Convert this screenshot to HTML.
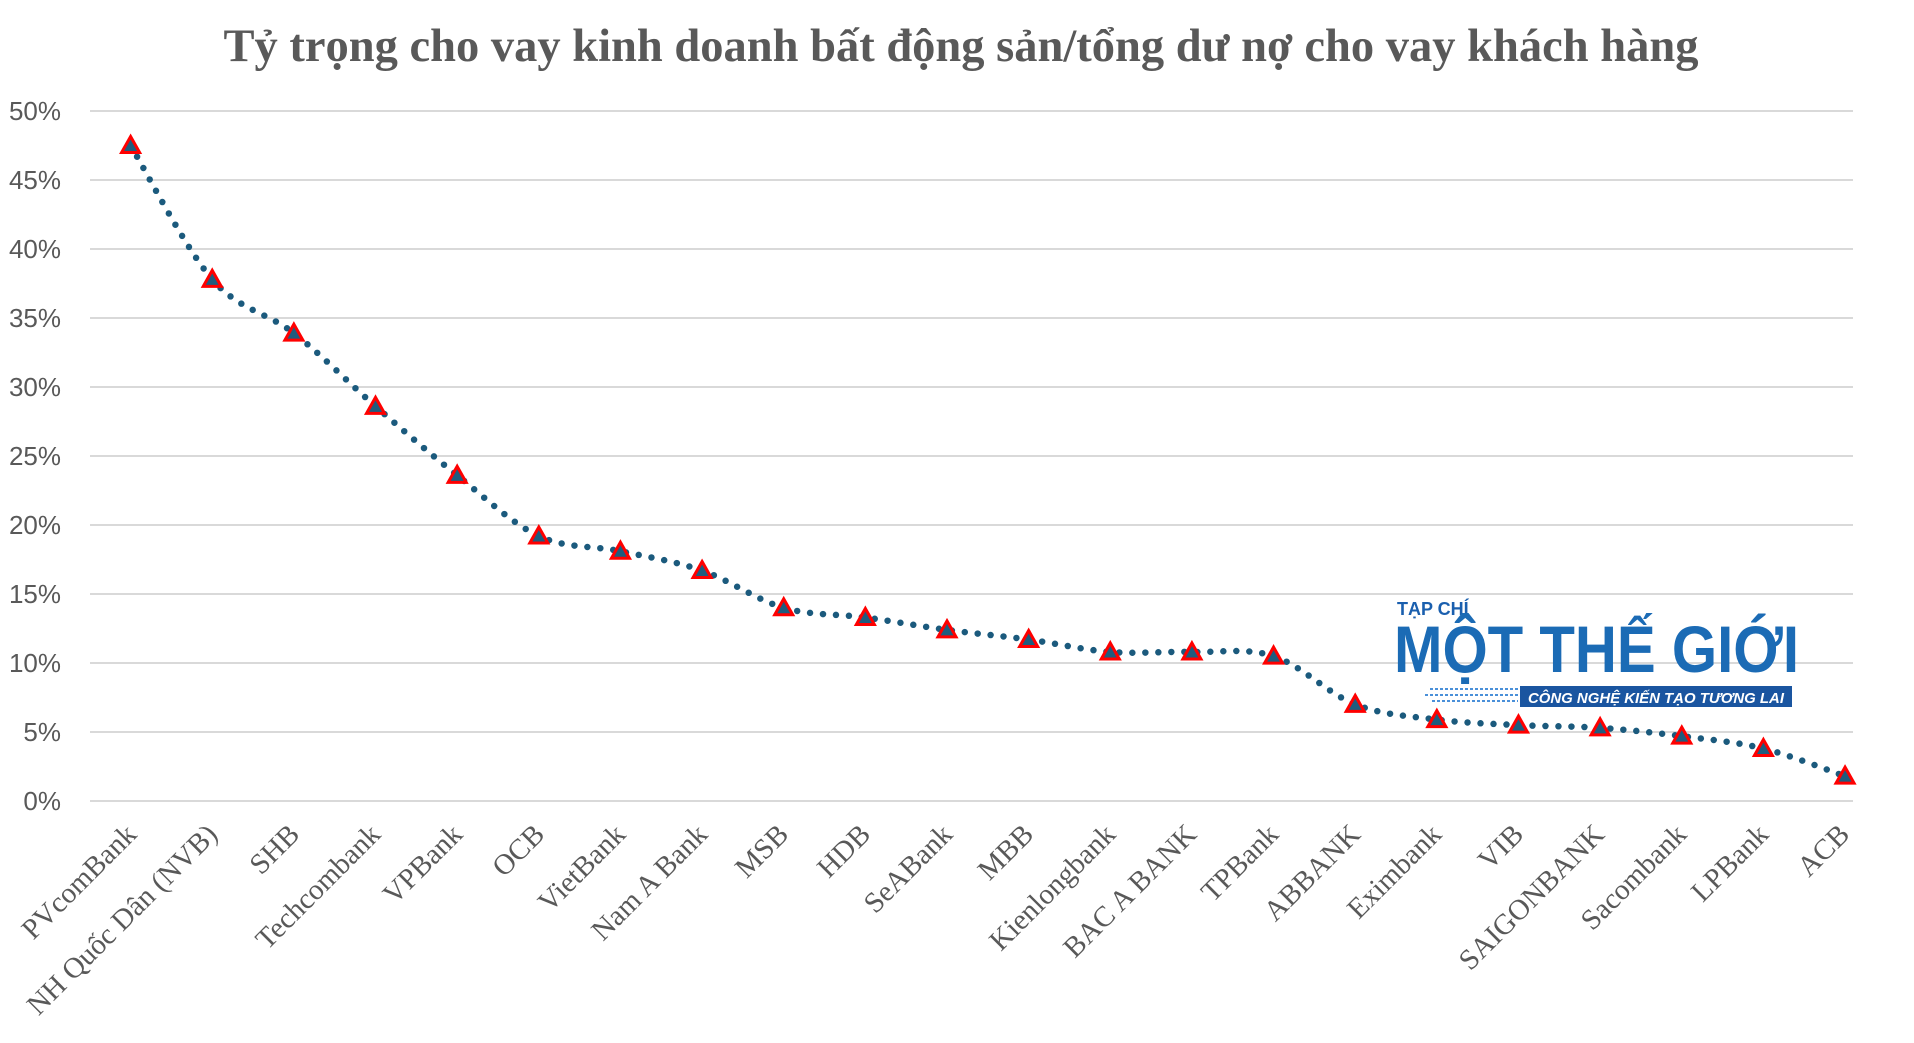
<!DOCTYPE html>
<html><head><meta charset="utf-8"><style>
html,body{margin:0;padding:0;background:#fff;}
svg{display:block;}
.yl{font-family:"Liberation Sans",sans-serif;font-size:26px;fill:#595959;text-anchor:end;}
.xl{font-family:"Liberation Serif",serif;font-size:29px;fill:#595959;text-anchor:end;}
</style></head><body>
<svg id="s" width="1914" height="1043" viewBox="0 0 1914 1043" xmlns="http://www.w3.org/2000/svg">
<text x="961" y="61" text-anchor="middle" style="font-family:'Liberation Serif',serif;font-weight:bold;font-size:46.5px;fill:#595959">Tỷ trọng cho vay kinh doanh bất động sản/tổng dư nợ cho vay khách hàng</text>
<g stroke="#d9d9d9" stroke-width="2">
<line x1="90" x2="1853" y1="111" y2="111"/><line x1="90" x2="1853" y1="180" y2="180"/>
<line x1="90" x2="1853" y1="249" y2="249"/><line x1="90" x2="1853" y1="318" y2="318"/>
<line x1="90" x2="1853" y1="387" y2="387"/><line x1="90" x2="1853" y1="456" y2="456"/>
<line x1="90" x2="1853" y1="525" y2="525"/><line x1="90" x2="1853" y1="594" y2="594"/>
<line x1="90" x2="1853" y1="663" y2="663"/><line x1="90" x2="1853" y1="732" y2="732"/>
<line x1="90" x2="1853" y1="801" y2="801"/>
</g>
<g class="yl">
<text x="61" y="120">50%</text><text x="61" y="189">45%</text><text x="61" y="258">40%</text>
<text x="61" y="327">35%</text><text x="61" y="396">30%</text><text x="61" y="465">25%</text>
<text x="61" y="534">20%</text><text x="61" y="603">15%</text><text x="61" y="672">10%</text>
<text x="61" y="741">5%</text><text x="61" y="810">0%</text>
</g>
<g class="xl">
<text transform="translate(138,836) rotate(-45)">PVcomBank</text>
<text transform="translate(219,836) rotate(-45)">NH Quốc Dân (NVB)</text>
<text transform="translate(301,836) rotate(-45)">SHB</text>
<text transform="translate(382,836) rotate(-45)">Techcombank</text>
<text transform="translate(464,836) rotate(-45)">VPBank</text>
<text transform="translate(546,836) rotate(-45)">OCB</text>
<text transform="translate(627,836) rotate(-45)">VietBank</text>
<text transform="translate(709,836) rotate(-45)">Nam A Bank</text>
<text transform="translate(790,836) rotate(-45)">MSB</text>
<text transform="translate(872,836) rotate(-45)">HDB</text>
<text transform="translate(954,836) rotate(-45)">SeABank</text>
<text transform="translate(1035,836) rotate(-45)">MBB</text>
<text transform="translate(1117,836) rotate(-45)">Kienlongbank</text>
<text transform="translate(1198,836) rotate(-45)">BAC A BANK</text>
<text transform="translate(1280,836) rotate(-45)">TPBank</text>
<text transform="translate(1362,836) rotate(-45)">ABBANK</text>
<text transform="translate(1443,836) rotate(-45)">Eximbank</text>
<text transform="translate(1525,836) rotate(-45)">VIB</text>
<text transform="translate(1606,836) rotate(-45)">SAIGONBANK</text>
<text transform="translate(1688,836) rotate(-45)">Sacombank</text>
<text transform="translate(1770,836) rotate(-45)">LPBank</text>
<text transform="translate(1851,836) rotate(-45)">ACB</text>
</g>
<g id="logo" font-family="'Liberation Sans',sans-serif" font-weight="bold">
<text x="1397" y="615" font-size="18" fill="#1a5fae">TẠP CHÍ</text>
<text x="1394" y="672" font-size="66" fill="#1b6bb5" textLength="405" lengthAdjust="spacingAndGlyphs">MỘT THẾ GIỚI</text>
<rect x="1520" y="686" width="272" height="21" fill="#1a55a0"/>
<text x="1528" y="703" font-size="15" font-style="italic" fill="#fff" textLength="256" lengthAdjust="spacingAndGlyphs">CÔNG NGHỆ KIẾN TẠO TƯƠNG LAI</text>
<g stroke="#4a90d9" stroke-width="2" stroke-dasharray="3 2">
<line x1="1430" x2="1518" y1="689" y2="689"/><line x1="1425" x2="1518" y1="695" y2="695"/><line x1="1432" x2="1518" y1="701" y2="701"/>
</g>
</g>
<path id="ln" fill="none" stroke="#1b5a7d" stroke-width="6.5" stroke-linecap="round" stroke-dasharray="0 13"/>
<g id="mk"></g>
</svg>
<script>
var v=[47.5,37.8,33.9,28.6,23.6,19.2,18.1,16.7,14.0,13.3,12.4,11.7,10.8,10.8,10.5,7.0,5.9,5.5,5.3,4.7,3.8,1.8];
var p=v.map(function(d,i){return [130.6+81.64*i,801-d*13.8];});
var d="M"+p[0][0]+","+p[0][1];
for(var i=0;i<p.length-1;i++){
 var p0=p[Math.max(i-1,0)],p1=p[i],p2=p[i+1],p3=p[Math.min(i+2,p.length-1)];
 var c1=[p1[0]+(p2[0]-p0[0])/6,p1[1]+(p2[1]-p0[1])/6],c2=[p2[0]-(p3[0]-p1[0])/6,p2[1]-(p3[1]-p1[1])/6];
 d+=" C"+c1+" "+c2+" "+p2;
}
document.getElementById("ln").setAttribute("d",d);
var g="";
p.forEach(function(q){var x=q[0],y=q[1];
 g+='<polygon points="'+x+','+(y-9)+' '+(x+9)+','+(y+7)+' '+(x-9)+','+(y+7)+'" fill="#1f5c7e" stroke="#ff0000" stroke-width="3" stroke-linejoin="miter"/>';});
document.getElementById("mk").innerHTML=g;
</script>
</body></html>
